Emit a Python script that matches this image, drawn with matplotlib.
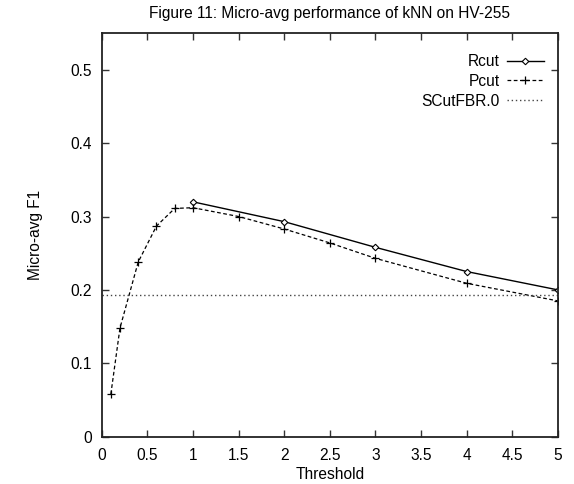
import matplotlib
matplotlib.use("Agg")
import matplotlib.pyplot as plt

plt.rcParams['font.family'] = ['Liberation Sans', 'DejaVu Sans']

# Micro-avg F1 of kNN on HV-255 versus threshold
rcut_x = [1, 2, 3, 4, 5]
rcut_y = [0.320, 0.293, 0.258, 0.225, 0.200]

pcut_x = [0.1, 0.2, 0.4, 0.6, 0.8, 1.0, 1.5, 2.0, 2.5, 3.0, 4.0, 5.0]
pcut_y = [0.058, 0.148, 0.238, 0.287, 0.311, 0.312, 0.300, 0.283, 0.264, 0.243, 0.209, 0.185]

scut_level = 0.193

x_ticks = [0, 0.5, 1, 1.5, 2, 2.5, 3, 3.5, 4, 4.5, 5]
x_tick_labels = ["0", "0.5", "1", "1.5", "2", "2.5", "3", "3.5", "4", "4.5", "5"]
y_ticks = [0, 0.1, 0.2, 0.3, 0.4, 0.5]
y_tick_labels = ["0", "0.1", "0.2", "0.3", "0.4", "0.5"]

FS = 11.2

fig = plt.figure(figsize=(5.74, 4.84), dpi=100)
ax = fig.add_axes([0.1772, 0.0977, 0.9721 - 0.1772, 0.9318 - 0.0977])

ax.plot(rcut_x, rcut_y, color='black', lw=1.0, linestyle='-',
        marker='D', markersize=3.3, markerfacecolor='white',
        markeredgecolor='black', markeredgewidth=0.8, label='Rcut')
ax.plot(pcut_x, pcut_y, color='black', lw=0.9, linestyle=(0, (3, 2)),
        marker='+', markersize=6, markeredgewidth=0.9, label='Pcut')
ax.axhline(scut_level, color='#444444', lw=1.0, linestyle=(0, (1, 2)),
           label='SCutFBR.0')

ax.set_xlim(0, 5)
ax.set_ylim(0, 0.55)
ax.set_xticks(x_ticks)
ax.set_xticklabels(x_tick_labels)
ax.set_yticks(y_ticks)
ax.set_yticklabels(y_tick_labels)

ax.tick_params(direction='in', length=5, width=1.0, labelsize=FS,
               top=True, right=True, color='#333333')
ax.tick_params(axis='x', pad=8)
ax.tick_params(axis='y', pad=7)
for s in ax.spines.values():
    s.set_linewidth(1.3)
    s.set_color('#222222')

ax.set_xlabel('Threshold', fontsize=FS, labelpad=3)
ax.set_ylabel('Micro-avg F1', fontsize=FS, labelpad=20)
ax.set_title('Figure 11: Micro-avg performance of kNN on HV-255',
             fontsize=FS, pad=11)

ax.legend(loc='upper right', bbox_to_anchor=(0.983, 0.963), frameon=False,
          markerfirst=False, fontsize=FS, handlelength=2.4,
          handletextpad=0.45, labelspacing=0.3, borderaxespad=0)

fig.savefig('out.png', dpi=100)
